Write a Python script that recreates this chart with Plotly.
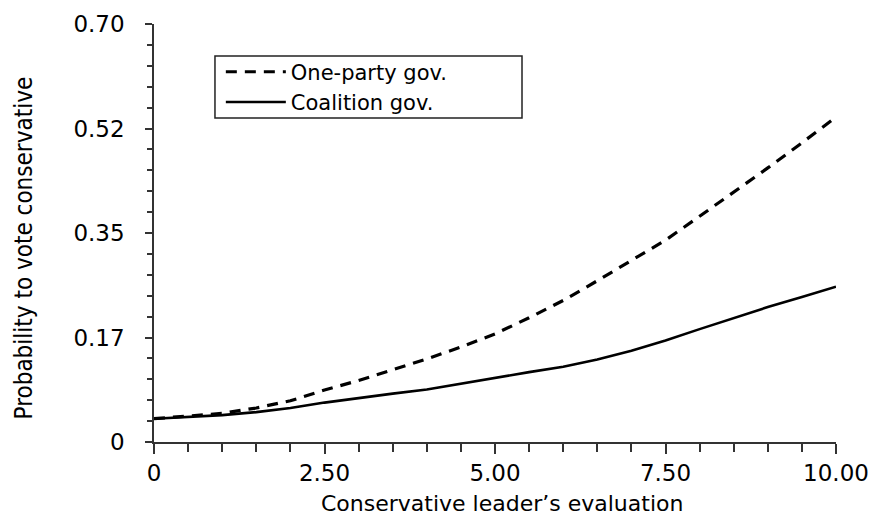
import plotly.graph_objects as go

# Data
x_vals = [0, 0.5, 1, 1.5, 2, 2.5, 3, 3.5, 4, 4.5, 5, 5.5, 6, 6.5, 7, 7.5, 8, 8.5, 9, 9.5, 10]
one_party = [0.039, 0.043, 0.048, 0.057, 0.069, 0.087, 0.103, 0.121, 0.139, 0.159, 0.181,
             0.208, 0.237, 0.270, 0.304, 0.338, 0.378, 0.418, 0.459, 0.501, 0.544]
coalition = [0.039, 0.042, 0.045, 0.050, 0.057, 0.066, 0.074, 0.081, 0.088, 0.098, 0.108,
             0.117, 0.126, 0.138, 0.153, 0.170, 0.189, 0.208, 0.226, 0.243, 0.260]

x_tickvals = [0, 2.5, 5, 7.5, 10]
x_ticktext = ["0", "2.50", "5.00", "7.50", "10.00"]
y_tickvals = [0, 0.175, 0.35, 0.525, 0.70]
y_ticktext = ["0", "0.17", "0.35", "0.52", "0.70"]

x_title = "Conservative leader\u2019s evaluation"
y_title = "Probability to vote conservative"

WIDE = "DejaVu Sans, Verdana, sans-serif"
NARROW = "Liberation Sans Narrow, DejaVu Sans Condensed, Arial Narrow, sans-serif"

fig = go.Figure()
fig.add_trace(go.Scatter(x=x_vals, y=one_party, mode="lines", name="One-party gov.",
                         line=dict(color="black", width=3.2, dash="11px,8px")))
fig.add_trace(go.Scatter(x=x_vals, y=coalition, mode="lines", name="Coalition gov.",
                         line=dict(color="black", width=2.6)))

fig.update_layout(
    width=863, height=509,
    margin=dict(l=146, r=35, t=16, b=75, autoexpand=False),
    paper_bgcolor="white", plot_bgcolor="white",
    font=dict(family=WIDE, color="black", size=22),
    showlegend=True,
    legend=dict(x=0.098, y=0.849, xanchor="left", yanchor="middle",
                borderwidth=0, bgcolor="rgba(0,0,0,0)",
                font=dict(family=WIDE, size=21, color="black"),
                itemwidth=60, tracegroupgap=0),
    shapes=[dict(type="rect", xref="paper", yref="paper",
                 x0=0.0894, x1=0.5396, y0=0.775, y1=0.9234,
                 line=dict(color="#222", width=1.5), fillcolor="white", layer="below")],
    xaxis=dict(range=[0, 10], showgrid=False, zeroline=False, automargin=False,
               showline=True, linecolor="#333", linewidth=1.5,
               ticks="outside", ticklen=10, tickwidth=1.5, tickcolor="#333",
               tickvals=x_tickvals, ticktext=x_ticktext,
               tickfont=dict(family=WIDE, size=23, color="black"),
               minor=dict(dtick=0.5, tick0=0, ticks="outside", ticklen=8,
                          tickwidth=1.5, tickcolor="#333", showgrid=False)),
    yaxis=dict(range=[0, 0.70], showgrid=False, zeroline=False, automargin=False,
               showline=True, linecolor="#333", linewidth=1.5,
               ticks="outside", ticklen=7, tickwidth=1.5, tickcolor="#333",
               tickvals=y_tickvals, ticktext=y_ticktext,
               ticklabelstandoff=16,
               tickfont=dict(family=WIDE, size=23, color="black"),
               minor=dict(dtick=0.035, tick0=0, ticks="outside", ticklen=5,
                          tickwidth=1.5, tickcolor="#333", showgrid=False)),
    yaxis2=dict(range=[0, 0.70], overlaying="y", side="left", showgrid=False,
                zeroline=False, showline=False, showticklabels=False, automargin=False,
                ticks="inside", ticklen=7, tickwidth=1.5, tickcolor="#333",
                tickvals=y_tickvals,
                minor=dict(dtick=0.035, tick0=0, ticks="inside", ticklen=5,
                           tickwidth=1.5, tickcolor="#333", showgrid=False)),
    annotations=[
        dict(text=x_title, xref="paper", yref="paper", x=0.51, y=-0.146,
             xanchor="center", yanchor="middle", showarrow=False,
             font=dict(family=WIDE, size=22, color="black")),
        dict(text=y_title, xref="paper", yref="paper", x=-0.19, y=0.464,
             xanchor="center", yanchor="middle", showarrow=False, textangle=-90,
             font=dict(family=NARROW, size=24, color="black")),
    ],
)

fig.write_html("out.html")
